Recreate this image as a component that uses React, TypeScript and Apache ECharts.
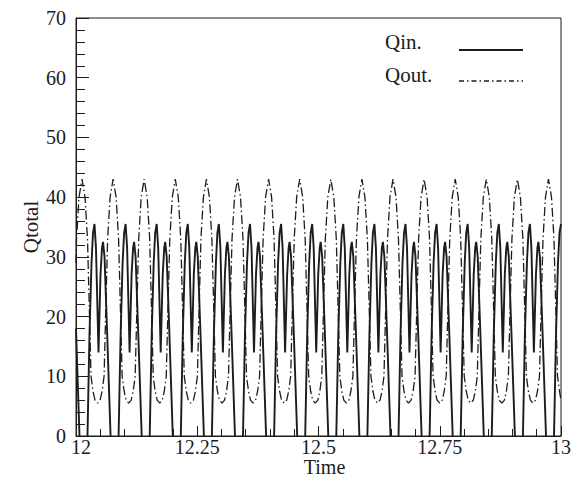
import React, { useEffect, useRef } from "react";
import * as echarts from "echarts";

const seriesNames = ["Qin.", "Qout."];
const xTickValues = [12, 12.25, 12.5, 12.75, 13];
const yTickValues = [0, 10, 20, 30, 40, 50, 60, 70];

// Qin (solid) — [time, Qtotal]
const qin: [number, number][] = [
  [12.0, 18],
  [12.0072, 0], [12.0155, -8], [12.0237, 0], [12.0278, 17], [12.032, 29], [12.0351, 34], [12.0381, 35.5], [12.0412, 31.5], [12.0464, 14], [12.0505, 27], [12.0536, 31.5], [12.0557, 32.5], [12.0588, 30], [12.0639, 18],
  [12.0713, 0], [12.0796, -8], [12.0878, 0], [12.092, 17], [12.0961, 29], [12.0992, 34], [12.1023, 35.5], [12.1054, 31.5], [12.1105, 14], [12.1146, 27], [12.1177, 31.5], [12.1198, 32.5], [12.1229, 30], [12.128, 18],
  [12.1355, 0], [12.1437, -8], [12.152, 0], [12.1561, 17], [12.1602, 29], [12.1633, 34], [12.1664, 35.5], [12.1695, 31.5], [12.1746, 14], [12.1788, 27], [12.1819, 31.5], [12.1839, 32.5], [12.187, 30], [12.1922, 18],
  [12.1996, 0], [12.2078, -8], [12.2161, 0], [12.2202, 17], [12.2243, 29], [12.2274, 34], [12.2305, 35.5], [12.2336, 31.5], [12.2388, 14], [12.2429, 27], [12.246, 31.5], [12.248, 32.5], [12.2511, 30], [12.2563, 18],
  [12.2637, 0], [12.272, -8], [12.2802, 0], [12.2843, 17], [12.2885, 29], [12.2915, 34], [12.2946, 35.5], [12.2977, 31.5], [12.3029, 14], [12.307, 27], [12.3101, 31.5], [12.3122, 32.5], [12.3153, 30], [12.3204, 18],
  [12.3278, 0], [12.3361, -8], [12.3443, 0], [12.3484, 17], [12.3526, 29], [12.3557, 34], [12.3588, 35.5], [12.3619, 31.5], [12.367, 14], [12.3711, 27], [12.3742, 31.5], [12.3763, 32.5], [12.3794, 30], [12.3845, 18],
  [12.392, 0], [12.4002, -8], [12.4085, 0], [12.4126, 17], [12.4167, 29], [12.4198, 34], [12.4229, 35.5], [12.426, 31.5], [12.4311, 14], [12.4353, 27], [12.4384, 31.5], [12.4404, 32.5], [12.4435, 30], [12.4487, 18],
  [12.4561, 0], [12.4643, -8], [12.4726, 0], [12.4767, 17], [12.4808, 29], [12.4839, 34], [12.487, 35.5], [12.4901, 31.5], [12.4953, 14], [12.4994, 27], [12.5025, 31.5], [12.5045, 32.5], [12.5076, 30], [12.5128, 18],
  [12.5202, 0], [12.5285, -8], [12.5367, 0], [12.5408, 17], [12.545, 29], [12.548, 34], [12.5511, 35.5], [12.5542, 31.5], [12.5594, 14], [12.5635, 27], [12.5666, 31.5], [12.5687, 32.5], [12.5718, 30], [12.5769, 18],
  [12.5843, 0], [12.5926, -8], [12.6008, 0], [12.605, 17], [12.6091, 29], [12.6122, 34], [12.6153, 35.5], [12.6184, 31.5], [12.6235, 14], [12.6276, 27], [12.6307, 31.5], [12.6328, 32.5], [12.6359, 30], [12.641, 18],
  [12.6485, 0], [12.6567, -8], [12.665, 0], [12.6691, 17], [12.6732, 29], [12.6763, 34], [12.6794, 35.5], [12.6825, 31.5], [12.6876, 14], [12.6918, 27], [12.6949, 31.5], [12.6969, 32.5], [12.7, 30], [12.7052, 18],
  [12.7126, 0], [12.7208, -8], [12.7291, 0], [12.7332, 17], [12.7373, 29], [12.7404, 34], [12.7435, 35.5], [12.7466, 31.5], [12.7518, 14], [12.7559, 27], [12.759, 31.5], [12.761, 32.5], [12.7641, 30], [12.7693, 18],
  [12.7767, 0], [12.785, -8], [12.7932, 0], [12.7973, 17], [12.8015, 29], [12.8045, 34], [12.8076, 35.5], [12.8107, 31.5], [12.8159, 14], [12.82, 27], [12.8231, 31.5], [12.8252, 32.5], [12.8283, 30], [12.8334, 18],
  [12.8408, 0], [12.8491, -8], [12.8573, 0], [12.8614, 17], [12.8656, 29], [12.8687, 34], [12.8718, 35.5], [12.8749, 31.5], [12.88, 14], [12.8841, 27], [12.8872, 31.5], [12.8893, 32.5], [12.8924, 30], [12.8975, 18],
  [12.905, 0], [12.9132, -8], [12.9215, 0], [12.9256, 17], [12.9297, 29], [12.9328, 34], [12.9359, 35.5], [12.939, 31.5], [12.9441, 14], [12.9483, 27], [12.9514, 31.5], [12.9534, 32.5], [12.9565, 30], [12.9617, 18],
  [12.9691, 0], [12.9773, -8], [12.9856, 0], [12.9897, 17], [12.9938, 29], [12.9969, 34], [13.0, 35.5],
];

// Qout (dash-dot) — [time, Qtotal]
const qout: [number, number][] = [
  [12.0, 29], [12.0011, 33], [12.0062, 40], [12.0124, 43], [12.0186, 40], [12.0237, 33], [12.0279, 20], [12.031, 10], [12.0351, 7.5], [12.0392, 6], [12.0445, 5.5],
  [12.0497, 6], [12.0538, 7.5], [12.0579, 10], [12.061, 20], [12.0652, 33], [12.0703, 40], [12.0765, 43], [12.0827, 40], [12.0878, 33], [12.092, 20], [12.0951, 10], [12.0992, 7.5], [12.1033, 6], [12.1086, 5.5],
  [12.1138, 6], [12.1179, 7.5], [12.122, 10], [12.1251, 20], [12.1293, 33], [12.1344, 40], [12.1406, 43], [12.1468, 40], [12.1519, 33], [12.1561, 20], [12.1592, 10], [12.1633, 7.5], [12.1674, 6], [12.1727, 5.5],
  [12.1779, 6], [12.182, 7.5], [12.1861, 10], [12.1892, 20], [12.1934, 33], [12.1985, 40], [12.2047, 43], [12.2109, 40], [12.216, 33], [12.2202, 20], [12.2233, 10], [12.2274, 7.5], [12.2315, 6], [12.2368, 5.5],
  [12.2421, 6], [12.2462, 7.5], [12.2503, 10], [12.2534, 20], [12.2576, 33], [12.2627, 40], [12.2689, 43], [12.2751, 40], [12.2802, 33], [12.2844, 20], [12.2875, 10], [12.2916, 7.5], [12.2957, 6], [12.301, 5.5],
  [12.3062, 6], [12.3103, 7.5], [12.3144, 10], [12.3175, 20], [12.3217, 33], [12.3268, 40], [12.333, 43], [12.3392, 40], [12.3443, 33], [12.3485, 20], [12.3516, 10], [12.3557, 7.5], [12.3598, 6], [12.3651, 5.5],
  [12.3703, 6], [12.3744, 7.5], [12.3785, 10], [12.3816, 20], [12.3858, 33], [12.3909, 40], [12.3971, 43], [12.4033, 40], [12.4084, 33], [12.4126, 20], [12.4157, 10], [12.4198, 7.5], [12.4239, 6], [12.4292, 5.5],
  [12.4344, 6], [12.4385, 7.5], [12.4426, 10], [12.4457, 20], [12.4499, 33], [12.455, 40], [12.4612, 43], [12.4674, 40], [12.4725, 33], [12.4767, 20], [12.4798, 10], [12.4839, 7.5], [12.488, 6], [12.4933, 5.5],
  [12.4986, 6], [12.5027, 7.5], [12.5068, 10], [12.5099, 20], [12.5141, 33], [12.5192, 40], [12.5254, 43], [12.5316, 40], [12.5367, 33], [12.5409, 20], [12.544, 10], [12.5481, 7.5], [12.5522, 6], [12.5575, 5.5],
  [12.5627, 6], [12.5668, 7.5], [12.5709, 10], [12.574, 20], [12.5782, 33], [12.5833, 40], [12.5895, 43], [12.5957, 40], [12.6008, 33], [12.605, 20], [12.6081, 10], [12.6122, 7.5], [12.6163, 6], [12.6216, 5.5],
  [12.6268, 6], [12.6309, 7.5], [12.635, 10], [12.6381, 20], [12.6423, 33], [12.6474, 40], [12.6536, 43], [12.6598, 40], [12.6649, 33], [12.6691, 20], [12.6722, 10], [12.6763, 7.5], [12.6804, 6], [12.6857, 5.5],
  [12.6909, 6], [12.695, 7.5], [12.6991, 10], [12.7022, 20], [12.7064, 33], [12.7115, 40], [12.7177, 43], [12.7239, 40], [12.729, 33], [12.7332, 20], [12.7363, 10], [12.7404, 7.5], [12.7445, 6], [12.7498, 5.5],
  [12.7551, 6], [12.7592, 7.5], [12.7633, 10], [12.7664, 20], [12.7706, 33], [12.7757, 40], [12.7819, 43], [12.7881, 40], [12.7932, 33], [12.7974, 20], [12.8005, 10], [12.8046, 7.5], [12.8087, 6], [12.814, 5.5],
  [12.8192, 6], [12.8233, 7.5], [12.8274, 10], [12.8305, 20], [12.8347, 33], [12.8398, 40], [12.846, 43], [12.8522, 40], [12.8573, 33], [12.8615, 20], [12.8646, 10], [12.8687, 7.5], [12.8728, 6], [12.8781, 5.5],
  [12.8833, 6], [12.8874, 7.5], [12.8915, 10], [12.8946, 20], [12.8988, 33], [12.9039, 40], [12.9101, 43], [12.9163, 40], [12.9214, 33], [12.9256, 20], [12.9287, 10], [12.9328, 7.5], [12.9369, 6], [12.9422, 5.5],
  [12.9474, 6], [12.9515, 7.5], [12.9556, 10], [12.9587, 20], [12.9629, 33], [12.968, 40], [12.9742, 43], [12.9804, 40], [12.9855, 33], [12.9897, 20], [12.9928, 10], [12.9969, 7.5], [13.0, 6],
];

const FONT = "Liberation Serif";
const INK = "#1c1c1c";
const DASH_DOT = [9, 3, 1.5, 3];
const FS = 20;

const labelRich = {
  t: { fontFamily: FONT, fontSize: FS, color: INK, lineHeight: 18 },
  first: { fontFamily: FONT, fontSize: FS, color: INK, lineHeight: 18, padding: [0, 0, 0, 10] },
};

export default function App() {
  const ref = useRef<HTMLDivElement>(null);
  useEffect(() => {
    if (!ref.current) return;
    const chart = echarts.init(ref.current, null, { renderer: "svg" });
    chart.setOption({
      animation: false,
      backgroundColor: "#ffffff",
      textStyle: { fontFamily: FONT, color: INK, fontSize: FS },
      grid: {
        left: 76,
        right: 18,
        top: 18,
        bottom: 50,
        show: true,
        borderColor: INK,
        borderWidth: 1,
      },
      legend: { show: false, data: seriesNames },
      graphic: [
        {
          type: "text",
          left: 385,
          top: 31,
          style: { text: seriesNames[0], font: `21px ${FONT}`, fill: INK },
        },
        {
          type: "line",
          shape: { x1: 459, y1: 50, x2: 523, y2: 50 },
          style: { stroke: INK, lineWidth: 1.8 },
        },
        {
          type: "text",
          left: 385,
          top: 64,
          style: { text: seriesNames[1], font: `21px ${FONT}`, fill: INK },
        },
        {
          type: "line",
          shape: { x1: 459, y1: 81, x2: 523, y2: 81 },
          style: { stroke: INK, lineWidth: 1.3, lineDash: [5, 3, 1.5, 3] },
        },
      ],
      xAxis: {
        type: "value",
        min: xTickValues[0],
        max: xTickValues[xTickValues.length - 1],
        interval: 0.25,
        name: "Time",
        nameLocation: "middle",
        nameGap: 21,
        nameMoveOverlap: false,
        nameTextStyle: {
          fontFamily: FONT,
          fontSize: FS,
          color: INK,
          lineHeight: 20,
          padding: [0, 0, 0, 12],
        },
        axisLine: { show: true, lineStyle: { color: INK, width: 1 } },
        axisTick: { show: true, inside: true, length: 10, lineStyle: { color: INK, width: 1 } },
        minorTick: { show: true, splitNumber: 5, length: 7, lineStyle: { color: INK, width: 1 } },
        splitLine: { show: false },
        axisLabel: {
          margin: 2,
          fontFamily: FONT,
          fontSize: FS,
          color: INK,
          formatter: (v: number) => (v === xTickValues[0] ? `{first|${v}}` : `{t|${v}}`),
          rich: labelRich,
        },
      },
      yAxis: {
        type: "value",
        min: yTickValues[0],
        max: yTickValues[yTickValues.length - 1],
        interval: 10,
        name: "Qtotal",
        nameLocation: "middle",
        nameGap: 35,
        nameMoveOverlap: false,
        nameRotate: 90,
        nameTextStyle: { fontFamily: FONT, fontSize: 21, color: INK },
        axisLine: { show: true, lineStyle: { color: INK, width: 1 } },
        axisTick: { show: true, inside: true, length: 13, lineStyle: { color: INK, width: 1 } },
        minorTick: { show: true, splitNumber: 5, length: 9, lineStyle: { color: INK, width: 1 } },
        splitLine: { show: false },
        axisLabel: {
          margin: 10,
          fontFamily: FONT,
          fontSize: FS,
          color: INK,
          formatter: (v: number) => `{t|${v}}`,
          rich: labelRich,
        },
      },
      series: [
        {
          name: seriesNames[1],
          type: "line",
          data: qout,
          symbol: "none",
          showSymbol: false,
          clip: true,
          z: 2,
          lineStyle: { color: INK, width: 1.3, type: DASH_DOT },
          itemStyle: { color: INK },
        },
        {
          name: seriesNames[0],
          type: "line",
          data: qin,
          symbol: "none",
          showSymbol: false,
          clip: true,
          z: 3,
          lineStyle: { color: INK, width: 1.9, type: "solid" },
          itemStyle: { color: INK },
        },
      ],
    });
    return () => chart.dispose();
  }, []);
  return (
    <div
      ref={ref}
      style={{ position: "absolute", left: 0, top: 0, width: 579, height: 486 }}
    />
  );
}
